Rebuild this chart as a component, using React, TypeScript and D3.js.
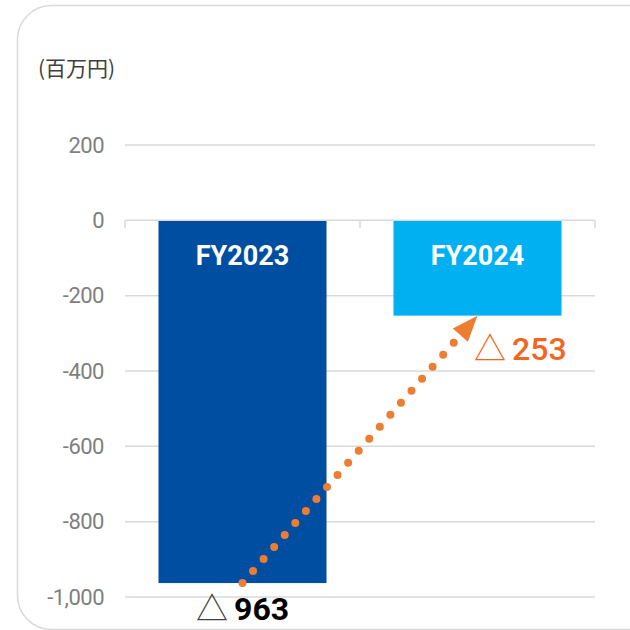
import React from "react";
import * as d3 from "d3";

const categories = ["FY2023", "FY2024"];
const values = [-963, -253];
const barColors = ["#004ea2", "#00b0f0"];
const yTicks = [200, 0, -200, -400, -600, -800, -1000];
const unitLabel = "(百万円)";
const valueLabels = ["963", "253"];

export default function App() {
  const W = 630, H = 630;
  const x = d3.scaleBand().domain(categories).range([125, 595]).paddingInner(0.285).paddingOuter(0.1425);
  const y = d3.scaleLinear().domain([-1000, 200]).range([597, 145]);
  const fmt = d3.formatLocale({ decimal: ".", thousands: ",", grouping: [3], currency: ["", ""], minus: "-" }).format(",");
  const cx = (c: string) => (x(c) as number) + x.bandwidth() / 2;

  const x0 = cx(categories[0]), y0 = y(values[0]);
  const x1 = cx(categories[1]), y1 = y(values[1]);
  const ang = Math.atan2(y1 - y0, x1 - x0);
  const headLen = 26, headHalf = 10;
  const bx = x1 - headLen * Math.cos(ang), by = y1 - headLen * Math.sin(ang);
  const px = -Math.sin(ang), py = Math.cos(ang);
  const head = [
    [x1, y1],
    [bx + px * headHalf, by + py * headHalf],
    [bx - px * headHalf, by - py * headHalf],
  ];
  const lineEndX = bx - 6 * Math.cos(ang), lineEndY = by - 6 * Math.sin(ang);

  return (
    <svg width={W} height={H} style={{ position: "absolute", left: 0, top: 0, background: "#fff" }}
      fontFamily="Roboto, 'Noto Sans CJK JP', sans-serif">
      <rect x={17.5} y={5.5} width={660} height={624} rx={34} fill="#fff" stroke="#d9d9d9" strokeWidth={1.5} />
      <text x={38} y={70} fontSize={21} fill="#404040" dominantBaseline="middle"
        fontFamily="'Noto Sans CJK JP', sans-serif">{unitLabel}</text>
      {yTicks.map((t) => (
        <g key={t}>
          {t !== 0 && (
            <line x1={125} x2={595} y1={y(t)} y2={y(t)} stroke="#d9d9d9" strokeWidth={1.5} />
          )}
          <text x={104} y={y(t)} textAnchor="end" dominantBaseline="central" fontSize={22}
            fill="#7f7f7f" letterSpacing={-0.5}>{fmt(t)}</text>
        </g>
      ))}
      {categories.map((c, i) => (
        <rect key={c} x={x(c)} y={y(Math.max(0, values[i]))} width={x.bandwidth()}
          height={Math.abs(y(values[i]) - y(0))} fill={barColors[i]} />
      ))}
      <line x1={125} x2={595} y1={y(0)} y2={y(0)} stroke="#d9d9d9" strokeWidth={1.5} />
      {[125, 360, 595].map((tx) => (
        <line key={tx} x1={tx} x2={tx} y1={y(0)} y2={y(0) + 8} stroke="#d9d9d9" strokeWidth={1.5} />
      ))}
      {categories.map((c) => (
        <text key={c} x={cx(c)} y={256} textAnchor="middle" dominantBaseline="central"
          fontSize={27} fontWeight="bold" fill="#fff">{c}</text>
      ))}
      <line x1={x0} y1={y0} x2={lineEndX} y2={lineEndY} stroke="#ed7d31" strokeWidth={8}
        strokeLinecap="round" strokeDasharray="0 16" />
      <polygon points={head.map((p) => p.join(",")).join(" ")} fill="#ed7d31" />
      <text x={196} y={609} dominantBaseline="central" fontSize={32} fill="#000">
        <tspan fontWeight="normal" fill="#404040">△</tspan>
        <tspan fontWeight="bold" dx={6}>{valueLabels[0]}</tspan>
      </text>
      <text x={474} y={349} dominantBaseline="central" fontSize={32} fill="#f26522">
        <tspan fontWeight="normal">△</tspan>
        <tspan fontWeight="500" dx={6}>{valueLabels[1]}</tspan>
      </text>
    </svg>
  );
}
